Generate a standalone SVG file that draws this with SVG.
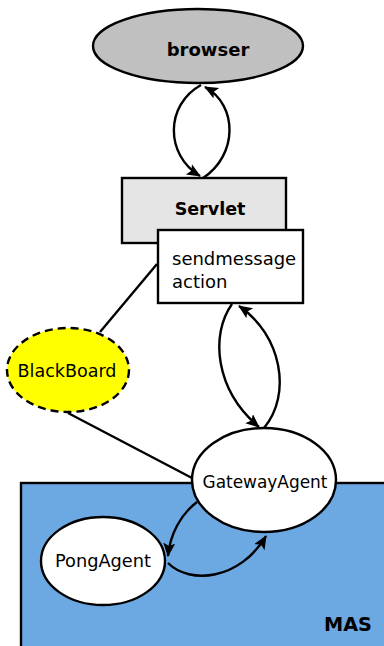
<svg xmlns="http://www.w3.org/2000/svg" width="384" height="646" viewBox="0 0 384 646">
<style>
.n{stroke:#000;stroke-width:2.4}
.t{font-family:"DejaVu Sans","Liberation Sans",sans-serif;fill:#000}
.b{font-weight:bold}
.e{fill:none;stroke:#000;stroke-width:2.4}
</style>
<defs>
<marker id="ah" markerUnits="userSpaceOnUse" markerWidth="16" markerHeight="14" refX="13" refY="6" orient="auto">
<path d="M0,0 L14,6 L0,12 L3,6 Z" fill="#000"/>
</marker>
</defs>
<rect width="384" height="646" fill="#fff"/>
<g id="MAS">
<rect x="21" y="483" width="380" height="180" fill="#6ca8e2" class="n"/>
<text class="t b" x="348" y="631" font-size="20" text-anchor="middle" textLength="48" lengthAdjust="spacingAndGlyphs">MAS</text>
</g>
<g id="connectors">
<path class="e" d="M201,85 C165,105 165,155 200,176" marker-end="url(#ah)"/>
<path class="e" d="M203,178 C238,155 238,105 205,87" marker-end="url(#ah)"/>
<path class="e" d="M232,304 C210,335 215,390 259,427" marker-end="url(#ah)"/>
<path class="e" d="M264,428 C292,395 282,335 239,306" marker-end="url(#ah)"/>
<path class="e" d="M197,502 C180,515 170,535 168,556" marker-end="url(#ah)"/>
<path class="e" d="M168,563 C190,585 240,580 266,536" marker-end="url(#ah)"/>
<path class="e" d="M157,264 L100,332"/>
<path class="e" d="M68,413 L192,478"/>
</g>
<g id="browser">
<ellipse cx="198" cy="46" rx="105" ry="37" fill="#c0c0c0" class="n"/>
<text class="t b" x="208" y="56" font-size="18" text-anchor="middle">browser</text>
</g>
<g id="Servlet">
<rect x="122" y="178" width="164" height="65" fill="#e5e5e5" class="n"/>
<text class="t b" x="210" y="215" font-size="17.5" text-anchor="middle">Servlet</text>
</g>
<g id="sendmessage">
<rect x="158" y="230" width="145" height="73" fill="#fff" class="n"/>
<text class="t" x="172" y="265" font-size="18">sendmessage</text>
<text class="t" x="172" y="288" font-size="18">action</text>
</g>
<g id="BlackBoard">
<ellipse cx="68" cy="370" rx="61" ry="42" fill="#ffff00" stroke="#000" stroke-width="2.4" stroke-dasharray="8,5"/>
<text class="t" x="67" y="377" font-size="18" text-anchor="middle" textLength="99" lengthAdjust="spacingAndGlyphs">BlackBoard</text>
</g>
<g id="GatewayAgent">
<ellipse cx="264" cy="480" rx="72" ry="52" fill="#fff" class="n"/>
<text class="t" x="265" y="488" font-size="18" text-anchor="middle" textLength="125" lengthAdjust="spacingAndGlyphs">GatewayAgent</text>
</g>
<g id="PongAgent">
<ellipse cx="103" cy="561" rx="62" ry="44" fill="#fff" class="n"/>
<text class="t" x="103" y="567" font-size="18" text-anchor="middle" textLength="96" lengthAdjust="spacingAndGlyphs">PongAgent</text>
</g>
</svg>
